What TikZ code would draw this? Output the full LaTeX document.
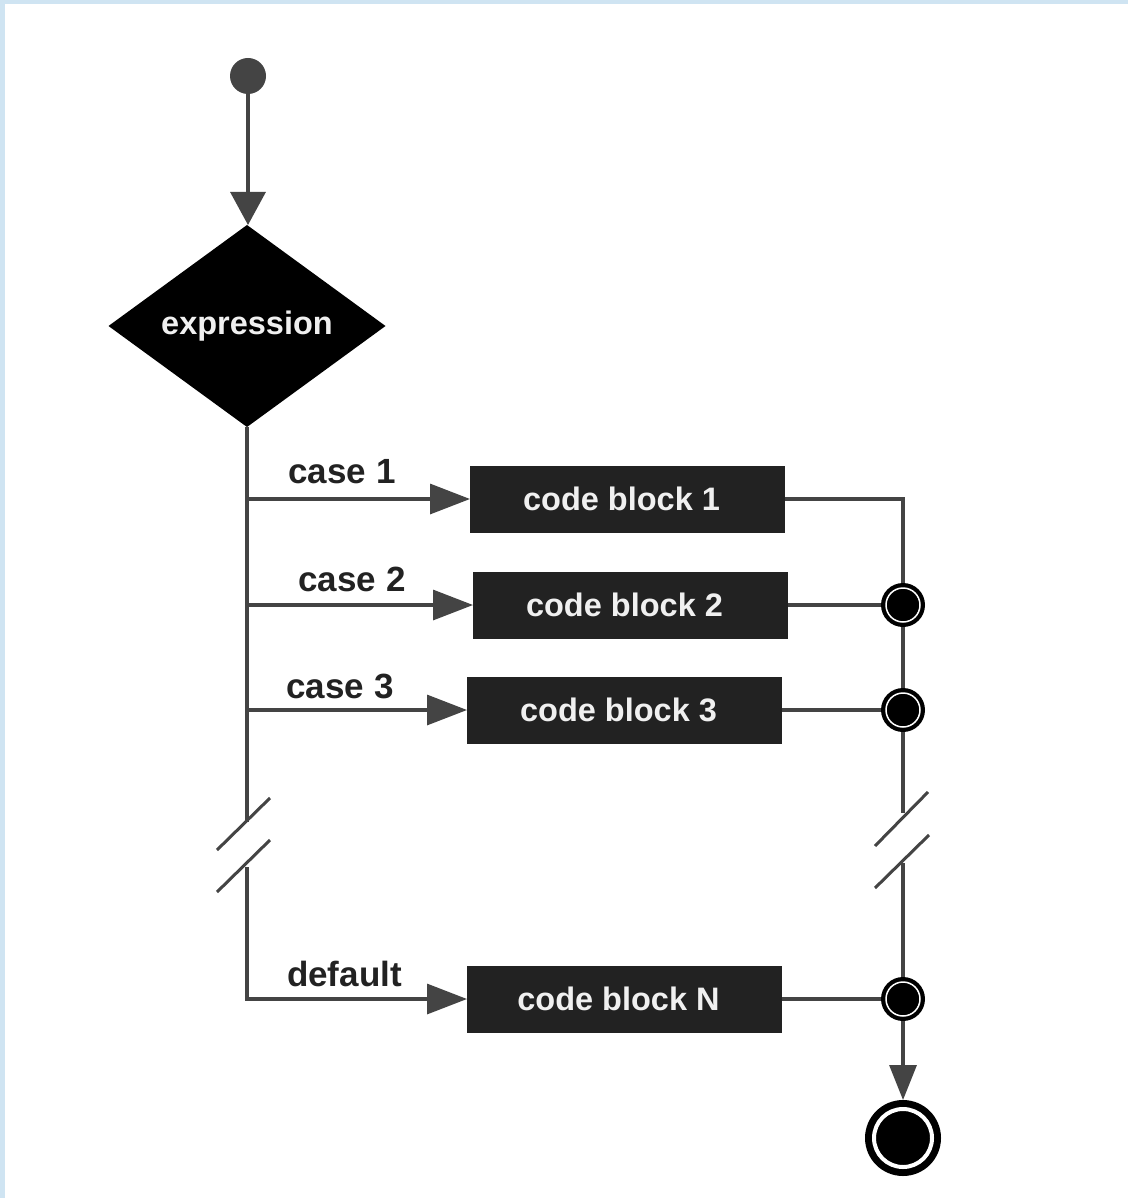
\documentclass[tikz,border=0pt]{standalone}
\usepackage{fontspec}
\setmainfont{Liberation Sans}
\usetikzlibrary{shapes.geometric,arrows.meta}
\definecolor{bordblue}{RGB}{207,228,242}
\definecolor{lc}{RGB}{68,68,68}
\definecolor{boxc}{RGB}{34,34,34}
\definecolor{txtw}{RGB}{240,240,240}
\begin{document}
\begin{tikzpicture}[x=1pt,y=-1pt,
  conn/.style={draw=lc, line width=3.2pt},
  arr/.style={conn, -{Triangle[length=40pt,width=30pt,fill=lc]}},
  brk/.style={draw=lc, line width=3pt},
  codebox/.style={rectangle, fill=boxc, text=txtw, minimum width=315pt, minimum height=67pt, inner sep=0pt, outer sep=0pt, font=\fontsize{32.5}{36}\selectfont\bfseries},
  decision/.style={diamond, fill=black, text=txtw, minimum width=277pt, minimum height=202pt, inner sep=0pt, outer sep=0pt, font=\fontsize{32.5}{36}\selectfont\bfseries},
  caselbl/.style={text=boxc, inner sep=0pt, font=\fontsize{35}{40}\selectfont\bfseries},
  startpt/.style={circle, fill=lc, minimum size=36pt, inner sep=0pt, outer sep=0pt},
  mergept/.style={circle, fill=black, minimum size=44pt, inner sep=0pt, outer sep=0pt,
    path picture={\draw[white, line width=1.5pt] (path picture bounding box.center) circle (17pt);}},
  endpt/.style={circle, fill=black, minimum size=76pt, inner sep=0pt, outer sep=0pt,
    path picture={\draw[white, line width=4pt] (path picture bounding box.center) circle (29pt);}}
]
\useasboundingbox (0,0) rectangle (1128,1198);
\fill[bordblue] (0,0) rectangle (1128,1198);
\fill[white] (5,4) rectangle (1128,1198);

% nodes
\node[startpt] (start) at (248,76) {};
\node[decision] (expr) at (247,326) {expression};
\node[codebox] (cb1) at (627.5,499) {\hspace*{-12pt}code block 1};
\node[codebox] (cb2) at (630.5,605) {\hspace*{-12pt}code block 2};
\node[codebox] (cb3) at (624.5,710) {\hspace*{-12pt}code block 3};
\node[codebox] (cbN) at (624.5,999) {\hspace*{-12pt}code block N};

\node[caselbl] (l1) at (342,472) {case 1};
\node[caselbl] (l2) at (352,579) {case 2};
\node[caselbl] (l3) at (340,686) {case 3};
\node[caselbl] (l4) at (344.5,974) {default};

\node[mergept] (m2) at (903,605) {};
\node[mergept] (m3) at (903,710) {};
\node[mergept] (mN) at (903,999) {};
\node[endpt] (end) at (903,1138) {};

\coordinate (lbrA) at (247,822);
\coordinate (lbrB) at (247,867);
\coordinate (rbrA) at (903,813);
\coordinate (rbrB) at (903,863);

% connectors
\draw[conn, -{Triangle[length=33pt,width=35pt,fill=lc]}] (start.south) -- (start.south |- expr.north);
\draw[conn] (expr.south) -- (lbrA);
\draw[arr] (lbrB) |- (cbN.west);
\draw[arr] (expr.south |- cb1.west) -- (cb1.west);
\draw[arr] (expr.south |- cb2.west) -- (cb2.west);
\draw[arr] (expr.south |- cb3.west) -- (cb3.west);

\draw[conn] (cb1.east) -| (m2.north);
\draw[conn] (cb2.east) -- (m2.west);
\draw[conn] (cb3.east) -- (m3.west);
\draw[conn] (cbN.east) -- (mN.west);
\draw[conn] (m2.south) -- (m3.north);
\draw[conn] (m3.south) -- (rbrA);
\draw[conn] (rbrB) -- (mN.north);
\draw[conn, -{Triangle[length=35pt,width=27pt,fill=lc]}] (mN.south) -- (end.north);

% break marks
\draw[brk] (217,850) -- (270,798);
\draw[brk] (217,892) -- (270,840);
\draw[brk] (875,846) -- (928,792);
\draw[brk] (875,888) -- (929,835);
\end{tikzpicture}
\end{document}
